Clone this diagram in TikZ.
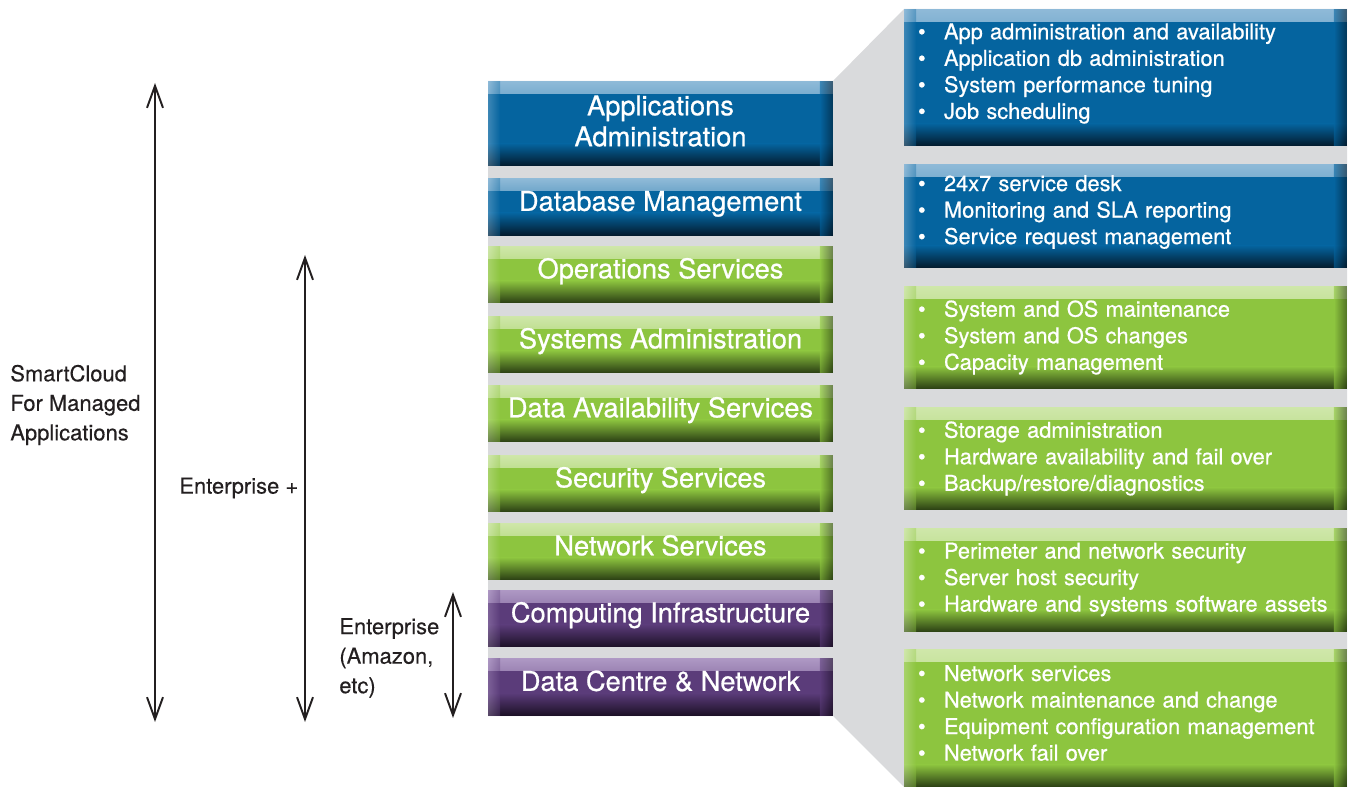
\documentclass[tikz,border=0pt]{standalone}
\usepackage{fontspec}
\setmainfont{TeX Gyre Heros}
\newfontfamily\medfont{TeX Gyre Heros}[FakeBold=0.7]
\newfontfamily\inkfont{TeX Gyre Heros}[FakeBold=0.3]
\usetikzlibrary{arrows.meta}

\definecolor{blu}{HTML}{05649F}
\definecolor{blulite}{HTML}{8FBAD8}
\definecolor{bludark}{HTML}{031A2C}
\definecolor{grn}{HTML}{8DC53F}
\definecolor{grnlite}{HTML}{CFE7AA}
\definecolor{grndark}{HTML}{2A3E13}
\definecolor{prp}{HTML}{5B3C7A}
\definecolor{prplite}{HTML}{AE98C4}
\definecolor{prpdark}{HTML}{1C1026}
\definecolor{backgray}{HTML}{D9DADC}
\definecolor{ink}{HTML}{231F20}

\newcommand{\itm}{\makebox[0.52cm][l]{\textbullet}}

\begin{document}
\begin{tikzpicture}[x=0.02cm, y=-0.02cm,
    tier/.style={rectangle, inner sep=0pt, fill=#1, path picture={
        \shade[top color=#1lite, bottom color=#1] (path picture bounding box.north west) rectangle ([yshift=-0.24cm]path picture bounding box.north east);
        \shade[top color=#1, bottom color=#1dark] ([yshift=0.45cm]path picture bounding box.south west) rectangle (path picture bounding box.south east);
        \shade[left color=#1lite, right color=#1, fill opacity=0.4] (path picture bounding box.north west) rectangle ([xshift=0.24cm]path picture bounding box.south west);
        \shade[left color=#1, right color=#1dark, fill opacity=0.6] ([xshift=-0.26cm]path picture bounding box.north east) rectangle (path picture bounding box.south east);
    }},
    lbox/.style={tier=#1, minimum width=6.9cm, minimum height=1.14cm},
    rbox/.style={tier=#1, minimum width=8.86cm},
    ttl/.style={text=white, font=\medfont\fontsize{15.5}{17.6}\selectfont, text height=11.2pt, text depth=0pt, yshift=0.12cm},
    ttltwo/.style={text=white, font=\medfont\fontsize{15.5}{17.6}\selectfont, align=center, yshift=0.05cm},
    lst/.style={text=white, font=\medfont\fontsize{12.4}{15.1}\selectfont, text width=8.3cm, align=left, inner sep=0pt, yshift=0.08cm},
    side/.style={text=ink, font=\inkfont\fontsize{12.5}{16.8}\selectfont, align=left, anchor=west, inner sep=0pt},
    span/.style={draw=ink, line width=1.1pt, {Straight Barb[length=4.4mm,width=3.2mm]}-{Straight Barb[length=4.4mm,width=3.2mm]}}]

    \useasboundingbox (0,0) rectangle (1349,787);

    % grey backdrop behind both columns
    \fill[backgray] (488,81) -- (833,81) -- (904,9) -- (1347,9) -- (1347,787) -- (904,787) -- (833,716) -- (488,716) -- cycle;

    % service layers
    \node[lbox=blu, minimum height=1.7cm, label={[ttltwo]center:Applications\\Administration}] (appadm) at (660.5,123.5) {};
    \node[lbox=blu, label={[ttl]center:Database Management}] (dbmgmt) at (660.5,207) {};
    \node[lbox=grn, label={[ttl]center:Operations Services}] (opsserv) at (660.5,274.5) {};
    \node[lbox=grn, label={[ttl]center:Systems Administration}] (sysadm) at (660.5,344.5) {};
    \node[lbox=grn, label={[ttl]center:Data Availability Services}] (dataavail) at (660.5,413.5) {};
    \node[lbox=grn, label={[ttl]center:Security Services}] (secserv) at (660.5,483.5) {};
    \node[lbox=grn, label={[ttl]center:Network Services}] (netserv) at (660.5,551.5) {};
    \node[lbox=prp, label={[ttl]center:Computing Infrastructure}] (compinfra) at (660.5,618.5) {};
    \node[lbox=prp, label={[ttl]center:Data Centre \& Network}] (dcnet) at (660.5,687) {};

    % detail boxes
    \node[rbox=blu, minimum height=2.74cm, label={[lst]center:{\itm App administration and availability\\ \itm Application db administration\\ \itm System performance tuning\\ \itm Job scheduling}}] (appitems) at (1125.5,77.5) {};
    \node[rbox=blu, minimum height=2.08cm, label={[lst]center:{\itm 24x7 service desk\\ \itm Monitoring and SLA reporting\\ \itm Service request management}}] (dbitems) at (1125.5,216) {};
    \node[rbox=grn, minimum height=2.06cm, label={[lst, yshift=-0.08cm]center:{\itm System and OS maintenance\\ \itm System and OS changes\\ \itm Capacity management}}] (opsitems) at (1125.5,337.5) {};
    \node[rbox=grn, minimum height=2.06cm, label={[lst, yshift=-0.08cm]center:{\itm Storage administration\\ \itm Hardware availability and fail over\\ \itm Backup/restore/diagnostics}}] (dataitems) at (1125.5,458.5) {};
    \node[rbox=grn, minimum height=2.08cm, label={[lst, yshift=-0.07cm]center:{\itm Perimeter and network security\\ \itm Server host security\\ \itm Hardware and systems software assets}}] (secitems) at (1125.5,580) {};
    \node[rbox=grn, minimum height=2.76cm, label={[lst, yshift=0.02cm]center:{\itm Network services\\ \itm Network maintenance and change\\ \itm Equipment configuration management\\ \itm Network fail over}}] (dcitems) at (1125.5,718) {};

    % coverage spans
    \node[side] (smart) at (10,405) {SmartCloud\\For Managed\\Applications};
    \node[side] (entplus) at (179,488) {Enterprise +};
    \node[side] (entbase) at (339,658) {Enterprise\\(Amazon,\\etc)};

    \coordinate (smtop) at (155,83);
    \coordinate (smbot) at (155,722);
    \coordinate (eptop) at (305,255);
    \coordinate (epbot) at (305,722);
    \coordinate (ebtop) at (453,592);
    \coordinate (ebbot) at (453,718);

    \draw[span] (smtop) -- (smbot);
    \draw[span] (eptop) -- (epbot);
    \draw[span] (ebtop) -- (ebbot);
\end{tikzpicture}
\end{document}
